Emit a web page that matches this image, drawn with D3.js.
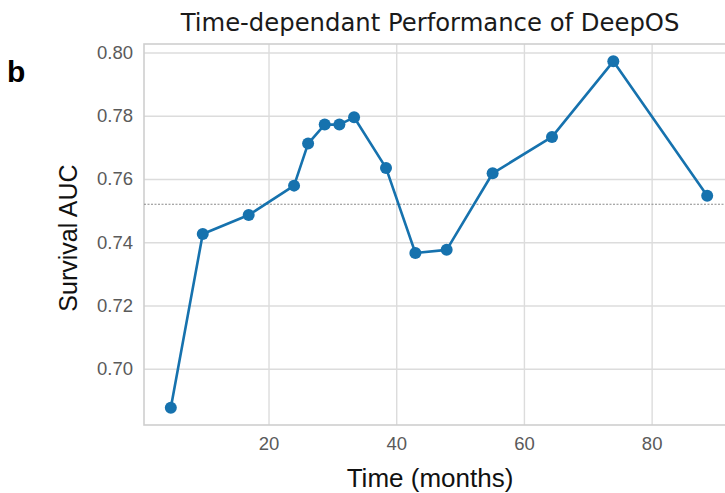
<!DOCTYPE html>
<html>
<head>
<meta charset="utf-8">
<script src="https://cdn.jsdelivr.net/npm/d3@7"></script>
<style>
  html, body { margin: 0; padding: 0; background: #ffffff; }
  svg { display: block; }
</style>
</head>
<body>
<div id="chart"></div>
<script>
// ---- data ----
const months = [4.7, 9.7, 16.9, 24.0, 26.2, 28.8, 31.1, 33.4, 38.4, 43.0, 47.9, 55.1, 64.4, 74.0, 88.7];
const auc    = [0.6877, 0.7426, 0.7486, 0.7579, 0.7712, 0.7772, 0.7772, 0.7795, 0.7635, 0.7366, 0.7376, 0.7618, 0.7733, 0.7972, 0.7547];
const referenceAUC = 0.752;
const xTicks = [20, 40, 60, 80];
const yTicks = [0.70, 0.72, 0.74, 0.76, 0.78, 0.80];
const titleText = "Time-dependant Performance of DeepOS";
const xLabel = "Time (months)";
const yLabel = "Survival AUC";
const panelLabel = "b";

const W = 725, H = 493;
const plot = { left: 144, right: 734, top: 44, bottom: 425 };

const svg = d3.select("#chart").append("svg")
  .attr("width", W).attr("height", H)
  .attr("viewBox", `0 0 ${W} ${H}`);

svg.append("rect").attr("width", W).attr("height", H).attr("fill", "#ffffff");

function padded(ext) {
  const p = (ext[1] - ext[0]) * 0.05;
  return [ext[0] - p, ext[1] + p];
}

const x = d3.scaleLinear().domain(padded(d3.extent(months))).range([plot.left, plot.right]);
const y = d3.scaleLinear().domain(padded(d3.extent(auc))).range([plot.bottom, plot.top]);

const g = svg.append("g");

// grid lines
g.append("g")
  .attr("transform", `translate(0,${plot.bottom})`)
  .call(d3.axisBottom(x).tickValues(xTicks).tickSize(-(plot.bottom - plot.top)).tickFormat(""))
  .call(s => s.select(".domain").remove())
  .call(s => s.selectAll("line").attr("stroke", "#dcdcdc").attr("stroke-width", 1.4));

g.append("g")
  .attr("transform", `translate(${plot.left},0)`)
  .call(d3.axisLeft(y).tickValues(yTicks).tickSize(-(plot.right - plot.left)).tickFormat(""))
  .call(s => s.select(".domain").remove())
  .call(s => s.selectAll("line").attr("stroke", "#dcdcdc").attr("stroke-width", 1.4));

// frame
g.append("rect")
  .attr("x", plot.left).attr("y", plot.top)
  .attr("width", plot.right - plot.left).attr("height", plot.bottom - plot.top)
  .attr("fill", "none").attr("stroke", "#cfcfcf").attr("stroke-width", 1.6);

// tick labels
const yAx = g.append("g")
  .attr("transform", `translate(${plot.left},0)`)
  .call(d3.axisLeft(y).tickValues(yTicks).tickSize(0).tickPadding(11).tickFormat(d3.format(".2f")));
yAx.select(".domain").remove();
yAx.selectAll("text")
  .attr("font-family", "'Liberation Sans', Arial, sans-serif")
  .attr("font-size", 18.5).attr("fill", "#5a5a5a");

const xAx = g.append("g")
  .attr("transform", `translate(0,${plot.bottom})`)
  .call(d3.axisBottom(x).tickValues(xTicks).tickSize(0).tickPadding(12).tickFormat(d3.format("d")));
xAx.select(".domain").remove();
xAx.selectAll("text")
  .attr("font-family", "'Liberation Sans', Arial, sans-serif")
  .attr("font-size", 18.5).attr("fill", "#5a5a5a");

// reference dotted line
g.append("line")
  .attr("x1", plot.left).attr("x2", plot.right)
  .attr("y1", y(referenceAUC)).attr("y2", y(referenceAUC))
  .attr("stroke", "#8a8a8a").attr("stroke-width", 1.1)
  .attr("stroke-dasharray", "2,1.5");

// series
const pts = months.map((m, i) => ({ m, v: auc[i] }));
const color = "#1672ae";
g.append("path")
  .datum(pts)
  .attr("fill", "none").attr("stroke", color).attr("stroke-width", 2.6)
  .attr("stroke-linejoin", "round")
  .attr("d", d3.line().x(d => x(d.m)).y(d => y(d.v)));

g.selectAll("circle.pt").data(pts).enter().append("circle")
  .attr("class", "pt")
  .attr("cx", d => x(d.m)).attr("cy", d => y(d.v)).attr("r", 6)
  .attr("fill", color);

// title
svg.append("text")
  .attr("x", 430).attr("y", 31)
  .attr("text-anchor", "middle")
  .attr("font-family", "'DejaVu Sans', sans-serif")
  .attr("font-size", 24.3).attr("fill", "#1a1a1a")
  .text(titleText);

// axis titles
svg.append("text")
  .attr("x", 430).attr("y", 487)
  .attr("text-anchor", "middle")
  .attr("font-family", "'Liberation Sans', Arial, sans-serif")
  .attr("font-size", 26).attr("fill", "#111111")
  .text(xLabel);

svg.append("text")
  .attr("transform", `translate(77,238) rotate(-90)`)
  .attr("text-anchor", "middle")
  .attr("font-family", "'Liberation Sans', Arial, sans-serif")
  .attr("font-size", 25).attr("fill", "#111111")
  .text(yLabel);

// panel label
svg.append("text")
  .attr("x", 7).attr("y", 82)
  .attr("font-family", "'Liberation Sans', Arial, sans-serif")
  .attr("font-weight", "bold")
  .attr("font-size", 30).attr("fill", "#000000")
  .text(panelLabel);
</script>
</body>
</html>
